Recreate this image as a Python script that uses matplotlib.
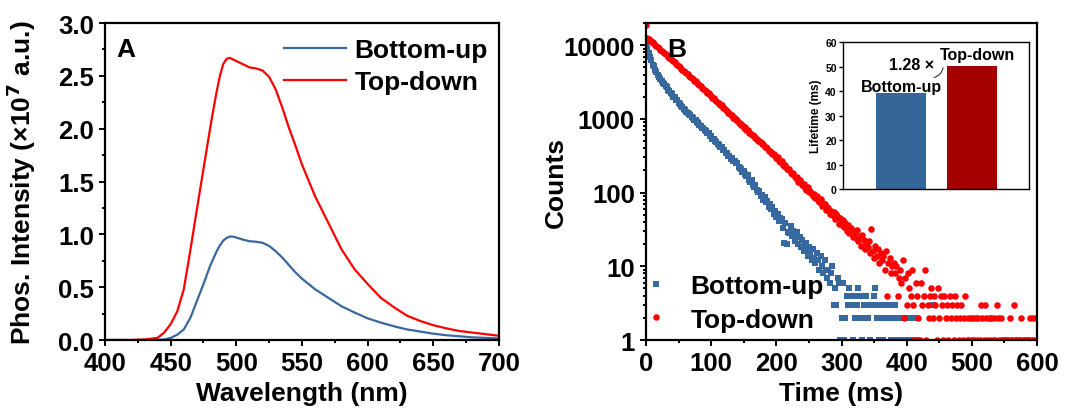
import numpy as np
import matplotlib
matplotlib.use("Agg")
import matplotlib.pyplot as plt
from matplotlib.ticker import MultipleLocator, LogLocator, NullFormatter

plt.rcParams['font.family'] = ['Liberation Sans', 'DejaVu Sans']
plt.rcParams['font.weight'] = 'bold'
plt.rcParams['axes.labelweight'] = 'bold'

# ---- panel A : phosphorescence spectra (x1e7 a.u.)
wl = [400, 420, 430, 440, 445, 450, 455, 460, 465, 470, 475, 480, 482.5, 485, 487.5,
      490, 492.5, 495, 497.5, 500, 505, 510, 515, 520, 525, 530, 535, 540, 545, 550,
      555, 560, 570, 580, 590, 600, 610, 620, 630, 640, 650, 660, 670, 680, 690, 700]
pl_bottom = [0.0, 0.0, 0.0, 0.0, 0.005, 0.02, 0.05, 0.10, 0.21, 0.37, 0.53, 0.70, 0.77, 0.84, 0.895,
             0.94, 0.965, 0.98, 0.978, 0.97, 0.95, 0.935, 0.93, 0.92, 0.89, 0.84, 0.78, 0.71, 0.64, 0.58,
             0.53, 0.48, 0.40, 0.32, 0.26, 0.205, 0.165, 0.13, 0.10, 0.08, 0.06, 0.045, 0.035, 0.025, 0.02, 0.015]
pl_top = [0.0, 0.0, 0.005, 0.02, 0.07, 0.15, 0.27, 0.48, 0.85, 1.24, 1.62, 2.00, 2.18, 2.35, 2.50,
          2.61, 2.66, 2.67, 2.655, 2.64, 2.61, 2.58, 2.57, 2.55, 2.49, 2.37, 2.20, 2.01, 1.84, 1.66,
          1.51, 1.36, 1.11, 0.86, 0.67, 0.53, 0.40, 0.31, 0.23, 0.18, 0.14, 0.11, 0.085, 0.07, 0.055, 0.04]

# ---- panel B : decay counts, 2 ms bins
t_bottom = np.arange(0, 441, 2)
cnt_bottom = [
    10800, 8900, 7900, 6850, 6250, 5450, 5150, 4650, 4350, 3950,
    3720, 3450, 3300, 3080, 2980, 2780, 2670, 2500, 2420, 2260,
    2150, 2010, 1960, 1830, 1780, 1650, 1600, 1500, 1460, 1370,
    1330, 1250, 1220, 1150, 1120, 1060, 1040, 980, 960, 900,
    880, 820, 810, 760, 750, 700, 695, 650, 640, 595,
    580, 540, 530, 495, 485, 450, 445, 415, 410, 380,
    375, 345, 340, 315, 312, 290, 292, 272, 270, 250,
    251, 226, 214, 212, 190, 196, 178, 170, 171, 149,
    141, 146, 128, 121, 126, 108, 101, 104, 91, 94,
    80, 86, 74, 78, 64, 70, 60, 63, 52, 57,
    47, 52, 41, 45, 44, 33, 21, 39, 20, 29,
    28, 35, 26, 30, 22, 27, 29, 20, 25, 18,
    23, 16, 19, 21, 14, 18, 15, 12, 17, 13,
    11, 15, 12, 9, 14, 10, 8, 12, 9, 7,
    9, 6, 8, 10, 3, 5, 3, 7, 6, 1,
    2, 6, 1, 2, 4, 3, 5, 4, 3, 1,
    2, 4, 3, 5, 4, 2, 1, 3, 2, 4,
    2, 3, 1, 0, 3, 4, 5, 2, 3, 1,
    2, 3, 1, 2, 3, 0, 2, 3, 1, 3,
    2, 3, 1, 2, 0, 1, 0, 2, 1, 2,
    1, 2, 0, 2, 1, 2, 1, 2, 1, 0,
    0, 0, 0, 0, 0, 0, 0, 0, 0, 0, 3]
t_top = np.arange(0, 601, 2)
cnt_top = [
    19000, 12600, 12000, 11700, 11200, 10900, 10400, 10100, 9700, 9400,
    9050, 8700, 8430, 8090, 7850, 7510, 7280, 6980, 6760, 6490,
    6300, 6030, 5850, 5600, 5430, 5180, 5030, 4810, 4670, 4460,
    4330, 4140, 4020, 3840, 3730, 3560, 3470, 3300, 3220, 3070,
    2990, 2840, 2780, 2630, 2580, 2440, 2400, 2270, 2230, 2100,
    2060, 1940, 1910, 1800, 1770, 1660, 1640, 1530, 1520, 1420,
    1410, 1310, 1300, 1210, 1210, 1120, 1120, 1030, 1040, 960,
    960, 885, 890, 820, 825, 755, 765, 700, 710, 650,
    650, 612, 604, 581, 548, 540, 505, 498, 482, 450,
    452, 418, 412, 399, 372, 368, 356, 331, 334, 309,
    296, 301, 271, 262, 268, 240, 229, 238, 209, 212,
    206, 187, 181, 184, 162, 158, 163, 141, 147, 133,
    128, 131, 117, 110, 119, 101, 106, 97, 90, 96,
    84, 91, 79, 74, 81, 66, 73, 70, 58, 64,
    62, 52, 57, 49, 55, 44, 51, 47, 38, 45,
    36, 43, 34, 39, 30, 36, 28, 33, 31, 25,
    29, 24, 31, 22, 26, 19, 27, 23, 17, 21,
    18, 22, 15, 32, 16, 13, 19, 14, 17, 11,
    15, 12, 14, 9, 16, 4, 11, 13, 8, 10,
    11, 8, 10, 4, 7, 9, 6, 12, 2, 7,
    3, 8, 5, 4, 9, 3, 1, 6, 4, 2,
    1, 6, 3, 4, 9, 1, 3, 2, 4, 5,
    2, 4, 3, 1, 5, 2, 4, 3, 1, 4,
    2, 3, 1, 4, 2, 3, 1, 4, 2, 3,
    1, 2, 3, 1, 2, 4, 1, 2, 1, 2,
    1, 2, 1, 2, 1, 2, 1, 3, 2, 1,
    3, 2, 1, 2, 1, 2, 1, 2, 1, 3,
    2, 1, 2, 1, 1, 1, 1, 1, 1, 2,
    1, 1, 3, 1, 1, 1, 1, 1, 2, 1,
    1, 1, 1, 1, 1, 2, 1, 2, 1, 2,
    2]

# ---- inset : lifetimes
samples = ['Bottom-up', 'Top-down']
lifetime = [39.2, 50.3]

c_blue = '#3868A0'
c_red = '#FF0000'
bar_colors = ['#356699', '#A40000']

fig = plt.figure(figsize=(10.66, 4.14), dpi=100)

def style(ax):
    for s in ax.spines.values():
        s.set_linewidth(1.6)
    ax.tick_params(which='both', direction='out', width=1.4, labelsize=18.5)
    ax.tick_params(which='major', length=4.5)
    ax.tick_params(which='minor', length=2.5)

# panel A
ax1 = fig.add_axes([0.0985, 0.1763, 0.3696, 0.7657])
ax1.plot(wl, pl_bottom, color=c_blue, lw=1.6, label='Bottom-up')
ax1.plot(wl, pl_top, color=c_red, lw=1.6, label='Top-down')
ax1.set_xlim(400, 700)
ax1.set_ylim(0, 3.0)
ax1.xaxis.set_major_locator(MultipleLocator(50))
ax1.xaxis.set_minor_locator(MultipleLocator(25))
ax1.yaxis.set_major_locator(MultipleLocator(0.5))
ax1.yaxis.set_minor_locator(MultipleLocator(0.25))
ax1.yaxis.set_major_formatter(plt.FormatStrFormatter('%.1f'))
style(ax1)
ax1.set_xlabel('Wavelength (nm)', fontsize=19, labelpad=4)
ax1.set_ylabel(r'Phos. Intensity (×10$^\mathbf{7}$ a.u.)', fontsize=19)
ax1.yaxis.set_label_coords(-0.17, 0.5)
ax1.text(0.03, 0.955, 'A', transform=ax1.transAxes, fontsize=19, va='top', ha='left')
ax1.legend(loc='upper right', frameon=False, fontsize=19, handlelength=2.35,
           handletextpad=0.3, labelspacing=0.32, borderaxespad=0.1,
           bbox_to_anchor=(1.005, 0.995))

# panel B
ax2 = fig.add_axes([0.606, 0.1763, 0.3668, 0.7657])
tb = np.asarray(t_bottom)
cb = np.asarray(cnt_bottom, dtype=float)
tt = np.asarray(t_top)
ct = np.asarray(cnt_top, dtype=float)
ax2.plot(tb[cb > 0], cb[cb > 0], ls='none', marker='s', ms=4.3, mew=0,
         color=c_blue, label='Bottom-up')
ax2.plot(tt[ct > 0], ct[ct > 0], ls='none', marker='o', ms=4.7, mew=0,
         color=c_red, label='Top-down')
ax2.set_yscale('log')
ax2.set_xlim(0, 600)
ax2.set_ylim(1, 20000)
ax2.xaxis.set_major_locator(MultipleLocator(100))
ax2.xaxis.set_minor_locator(MultipleLocator(50))
ax2.yaxis.set_minor_locator(LogLocator(base=10, subs=np.arange(2, 10), numticks=20))
ax2.yaxis.set_minor_formatter(NullFormatter())
ax2.set_yticks([1, 10, 100, 1000, 10000])
ax2.set_yticklabels(['1', '10', '100', '1000', '10000'])
style(ax2)
ax2.set_xlabel('Time (ms)', fontsize=19, labelpad=4)
ax2.set_ylabel('Counts', fontsize=19)
ax2.yaxis.set_label_coords(-0.201, 0.5)
ax2.text(0.055, 0.955, 'B', transform=ax2.transAxes, fontsize=19, va='top', ha='left')
ax2.legend(loc='lower left', frameon=False, fontsize=19, handlelength=0.6,
           handletextpad=1.0, labelspacing=0.35, borderaxespad=0.1,
           bbox_to_anchor=(-0.028, -0.015))

# inset
ax3 = fig.add_axes([0.7908, 0.541, 0.1745, 0.355])
ax3.bar([1, 2], lifetime, width=0.71, color=bar_colors)
ax3.set_xlim(0.18, 2.81)
ax3.set_ylim(0, 60)
ax3.set_xticks([])
ax3.yaxis.set_major_locator(MultipleLocator(10))
for s in ax3.spines.values():
    s.set_linewidth(1.0)
ax3.tick_params(axis='y', direction='out', length=3, width=1, labelsize=7.5, pad=1.5)
ax3.set_ylabel('Lifetime (ms)', fontsize=8.5, labelpad=2)
ax3.text(0.43, 42, samples[0], fontsize=11.5, va='center', ha='left')
ax3.text(1.55, 54.8, samples[1], fontsize=11.5, va='center', ha='left')
ax3.text(0.83, 50.7, '1.28 ×', fontsize=11.5, va='center', ha='left')
ax3.annotate('', xy=(1.6, 50.6), xytext=(1.43, 45.3),
             arrowprops=dict(arrowstyle='-', lw=0.8, color='#333333',
                             connectionstyle='arc3,rad=0.4'))

fig.savefig('out.png', dpi=100)
